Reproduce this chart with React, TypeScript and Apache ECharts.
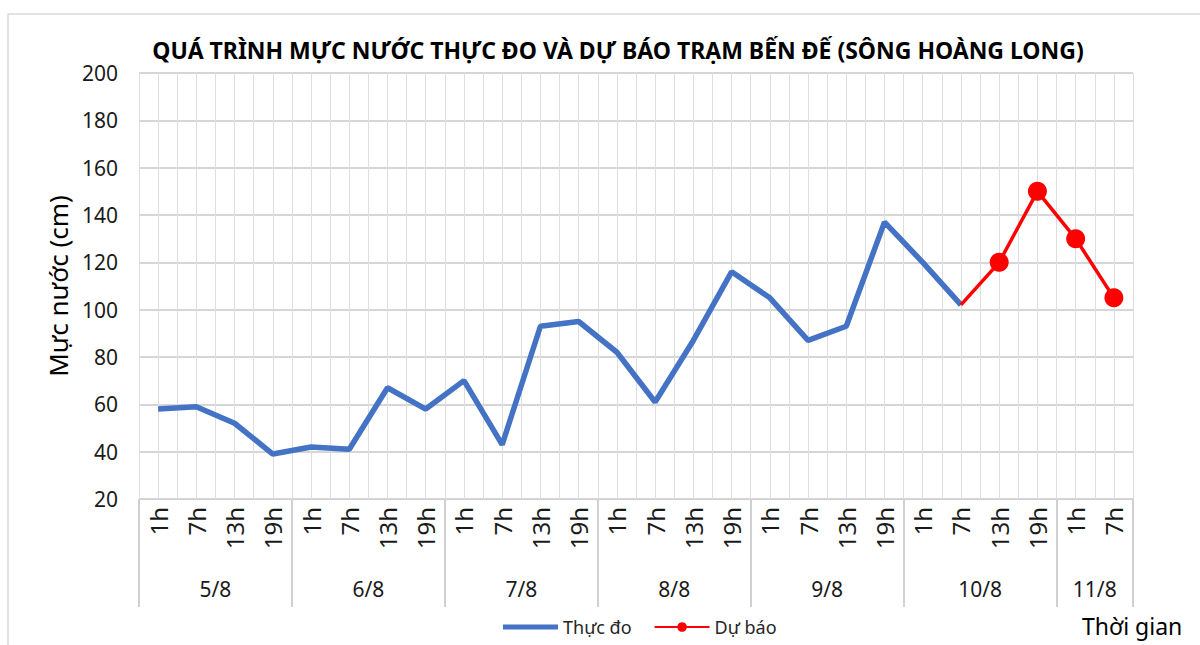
import React, { useEffect, useRef } from "react";
import * as echarts from "echarts";

const titleText = "QUÁ TRÌNH MỰC NƯỚC THỰC ĐO VÀ DỰ BÁO TRẠM BẾN ĐẾ (SÔNG HOÀNG LONG)";
const days = ["5/8", "6/8", "7/8", "8/8", "9/8", "10/8", "11/8"];
const dayHours = [
  ["1h", "7h", "13h", "19h"],
  ["1h", "7h", "13h", "19h"],
  ["1h", "7h", "13h", "19h"],
  ["1h", "7h", "13h", "19h"],
  ["1h", "7h", "13h", "19h"],
  ["1h", "7h", "13h", "19h"],
  ["1h", "7h"],
];
// observed water level (cm)
const observed = [
  58, 59, 52, 39,
  42, 41, 67, 58,
  70, 43, 93, 95,
  82, 61, 87, 116,
  105, 87, 93, 137,
  120, 102,
];
// forecast water level (cm), starting at last observed point
const forecastStartIndex = 21;
const forecast = [102, 120, 150, 130, 105];
const yTicks = { min: 20, max: 200, step: 20 };

export default function App() {
  const ref = useRef<HTMLDivElement>(null);
  useEffect(() => {
    document.body.style.margin = "0";
    const chart = echarts.init(ref.current!, null, { renderer: "svg" });

    const hourCats: string[] = [];
    dayHours.forEach((hs, d) => hs.forEach((h) => hourCats.push(`${d}|${h}`)));
    const n = hourCats.length;

    // half-slot axis (2n+1 positions) for minor gridlines, day separators, day labels
    const half: string[] = [];
    for (let i = 0; i <= 2 * n; i++) half.push(`_${i}`);
    const sepIdx: number[] = [0];
    let acc = 0;
    dayHours.forEach((hs, d) => {
      const mid = acc * 2 + hs.length;
      half[mid] = days[d];
      acc += hs.length;
      sepIdx.push(acc * 2);
    });

    const obsData = hourCats.map((_, i) => (i < observed.length ? observed[i] : null));
    const fcData: any[] = hourCats.map(() => null);
    forecast.forEach((v, k) => {
      const i = forecastStartIndex + k;
      fcData[i] = k === 0 ? { value: v, symbol: "none" } : v;
    });

    const font = "'Noto Sans', sans-serif";
    chart.setOption({
      animation: false,
      backgroundColor: "#fff",
      title: {
        text: titleText,
        left: 613,
        textAlign: "center",
        top: 33,
        textStyle: { fontFamily: font, fontWeight: "bold", fontSize: 23, color: "#000" },
      },
      grid: { left: 139, right: 67, top: 73, bottom: 146, containLabel: false },
      legend: {
        left: 498,
        top: 613,
        itemWidth: 55,
        itemHeight: 12,
        itemGap: 22,
        textStyle: { fontFamily: font, fontSize: 18, color: "#262626" },
        data: [
          {
            name: "Thực đo",
            icon: "path://M0,3.5 L55,3.5 L55,8.5 L0,8.5 Z M0,0 L0.05,0 L0.05,0.05 Z M0,12 L0.05,12 L0.05,11.95 Z",
          },
          { name: "Dự báo" },
        ],
      },
      xAxis: [
        {
          type: "category",
          data: hourCats,
          boundaryGap: true,
          axisLine: { show: true, lineStyle: { color: "#d0d0d0", width: 1 } },
          axisTick: { show: false },
          splitLine: { show: false },
          axisLabel: {
            interval: 0,
            rotate: 90,
            margin: 8,
            fontFamily: font,
            fontSize: 24,
            color: "#1a1a1a",
            formatter: (v: string) => v.split("|")[1],
          },
        },
        {
          type: "category",
          data: half,
          boundaryGap: false,
          position: "bottom",
          axisLine: { show: false },
          axisTick: {
            show: true,
            length: 108,
            interval: (i: number) => sepIdx.includes(i),
            lineStyle: { color: "#d0d0d0", width: 2 },
          },
          splitLine: { show: true, interval: 0, lineStyle: { color: "#dedede", width: 1 } },
          axisLabel: {
            interval: 0,
            margin: 79,
            fontFamily: font,
            fontSize: 21,
            color: "#1a1a1a",
            formatter: (v: string) => (v.startsWith("_") ? "" : v),
          },
        },
      ],
      yAxis: {
        type: "value",
        min: yTicks.min,
        max: yTicks.max,
        interval: yTicks.step,
        name: "Mực nước (cm)",
        nameLocation: "middle",
        nameGap: 68,
        nameTextStyle: { fontFamily: font, fontSize: 26, color: "#000" },
        axisLine: { show: false },
        axisTick: { show: false },
        axisLabel: { fontFamily: font, fontSize: 21, color: "#1a1a1a", margin: 21 },
        splitLine: { lineStyle: { color: "#c8c8c8", width: 1.5 } },
      },
      series: [
        {
          name: "Thực đo",
          type: "line",
          xAxisIndex: 0,
          data: obsData,
          symbol: "none",
          lineStyle: { color: "#4472c4", width: 5.5 },
          itemStyle: { color: "#4472c4" },
          z: 3,
        },
        {
          name: "Dự báo",
          type: "line",
          xAxisIndex: 0,
          data: fcData,
          symbol: "circle",
          symbolSize: 19,
          showSymbol: true,
          lineStyle: { color: "#ff0000", width: 3.5 },
          itemStyle: { color: "#ff0000" },
          z: 4,
        },
      ],
      graphic: [
        {
          type: "rect",
          shape: { x: 8, y: 14, width: 1300, height: 800 },
          style: { fill: "none", stroke: "#d9d9d9", lineWidth: 1.5 },
          silent: true,
          z: -1,
        },
        {
          type: "text",
          left: 1082,
          top: 614,
          style: { text: "Thời gian", fontFamily: font, fontSize: 23, fill: "#000" },
        },
      ],
    });
    return () => chart.dispose();
  }, []);
  return <div ref={ref} style={{ width: 1200, height: 645 }} />;
}
